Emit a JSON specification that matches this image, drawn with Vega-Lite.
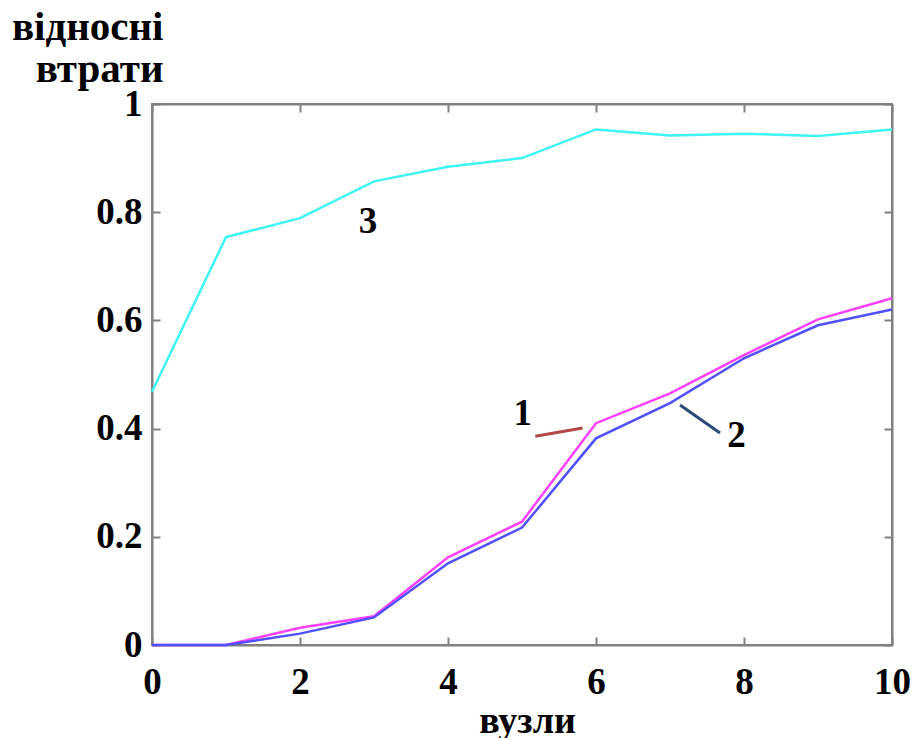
{
  "$schema": "https://vega.github.io/schema/vega-lite/v6.json",
  "width": 740,
  "height": 541,
  "autosize": "none",
  "padding": {"left": 152, "top": 104, "right": 21, "bottom": 93},
  "background": "white",
  "config": {
    "view": {"stroke": "#808080", "strokeWidth": 2},
    "axis": {
      "grid": false,
      "domainColor": "#808080",
      "domainWidth": 2,
      "tickColor": "#808080",
      "tickWidth": 2,
      "tickSize": -8,
      "labelFont": "Liberation Serif",
      "labelFontWeight": "bold",
      "labelFontSize": 37,
      "labelColor": "black",
      "titleFont": "Liberation Serif",
      "titleFontWeight": "bold",
      "titleFontSize": 38,
      "titleColor": "black"
    }
  },
  "datasets": {
    "lines": [
      {"series": "1", "x": 0, "y": 0},
      {"series": "1", "x": 1, "y": 0},
      {"series": "1", "x": 2, "y": 0.032},
      {"series": "1", "x": 3, "y": 0.053},
      {"series": "1", "x": 4, "y": 0.162},
      {"series": "1", "x": 5, "y": 0.228},
      {"series": "1", "x": 6, "y": 0.41},
      {"series": "1", "x": 7, "y": 0.465},
      {"series": "1", "x": 8, "y": 0.536},
      {"series": "1", "x": 9, "y": 0.602},
      {"series": "1", "x": 10, "y": 0.641},
      {"series": "2", "x": 0, "y": 0},
      {"series": "2", "x": 1, "y": 0},
      {"series": "2", "x": 2, "y": 0.021},
      {"series": "2", "x": 3, "y": 0.051},
      {"series": "2", "x": 4, "y": 0.151},
      {"series": "2", "x": 5, "y": 0.217},
      {"series": "2", "x": 6, "y": 0.382},
      {"series": "2", "x": 7, "y": 0.447},
      {"series": "2", "x": 8, "y": 0.53},
      {"series": "2", "x": 9, "y": 0.591},
      {"series": "2", "x": 10, "y": 0.62},
      {"series": "3", "x": 0, "y": 0.468},
      {"series": "3", "x": 1, "y": 0.754},
      {"series": "3", "x": 2, "y": 0.789},
      {"series": "3", "x": 3, "y": 0.857},
      {"series": "3", "x": 4, "y": 0.884},
      {"series": "3", "x": 5, "y": 0.9},
      {"series": "3", "x": 6, "y": 0.953},
      {"series": "3", "x": 7, "y": 0.942},
      {"series": "3", "x": 8, "y": 0.945},
      {"series": "3", "x": 9, "y": 0.941},
      {"series": "3", "x": 10, "y": 0.953}
    ],
    "pointers": [
      {"label": "1", "x": 5.18, "y": 0.386, "x2": 5.82, "y2": 0.401},
      {"label": "2", "x": 7.135, "y": 0.4436, "x2": 7.676, "y2": 0.392}
    ],
    "labels": [
      {"label": "1", "x": 5.01, "y": 0.4067},
      {"label": "2", "x": 7.9, "y": 0.366},
      {"label": "3", "x": 2.92, "y": 0.7616}
    ]
  },
  "layer": [
    {
      "data": {"name": "lines"},
      "mark": {"type": "line", "strokeWidth": 2.5},
      "encoding": {
        "x": {
          "field": "x", "type": "quantitative",
          "scale": {"domain": [0, 10], "nice": false},
          "axis": {
            "orient": "bottom",
            "values": [0, 2, 4, 6, 8, 10],
            "format": "d",
            "labelFlush": false,
            "labelBaseline": "alphabetic",
            "labelPadding": 56,
            "title": "вузли",
            "titleAnchor": "start",
            "titleAlign": "center",
            "titleBaseline": "alphabetic",
            "titleX": 375,
            "titleY": 87
          }
        },
        "y": {
          "field": "y", "type": "quantitative",
          "scale": {"domain": [0, 1], "nice": false},
          "axis": {
            "orient": "left",
            "values": [0, 0.2, 0.4, 0.6, 0.8, 1],
            "format": "~g",
            "labelFlush": false,
            "labelPadding": 18,
            "labelBaseline": "middle",
            "title": ["відносні", "втрати"],
            "titleFontSize": 41,
            "titleAngle": 0,
            "titleAnchor": "start",
            "titleAlign": "right",
            "titleBaseline": "alphabetic",
            "titleLineHeight": 42,
            "titleX": 11,
            "titleY": -65
          }
        },
        "color": {
          "field": "series", "type": "nominal",
          "scale": {"domain": ["1", "2", "3"], "range": ["#ff40ff", "#5050ff", "#40f4f4"]},
          "legend": null
        }
      }
    },
    {
      "data": {"name": "pointers"},
      "mark": {"type": "rule", "strokeWidth": 3},
      "encoding": {
        "x": {"field": "x", "type": "quantitative", "axis": null},
        "y": {"field": "y", "type": "quantitative", "axis": null},
        "x2": {"field": "x2"},
        "y2": {"field": "y2"},
        "color": {
          "field": "label", "type": "nominal",
          "scale": {"domain": ["1", "2"], "range": ["#b04848", "#2c4a78"]},
          "legend": null
        }
      }
    },
    {
      "data": {"name": "labels"},
      "mark": {"type": "text", "font": "Liberation Serif", "fontWeight": "bold", "fontSize": 37, "align": "center", "baseline": "alphabetic", "color": "black"},
      "encoding": {
        "x": {"field": "x", "type": "quantitative", "axis": null},
        "y": {"field": "y", "type": "quantitative", "axis": null},
        "text": {"field": "label"}
      }
    },
    {
      "data": {"name": "lines"},
      "mark": {"type": "point", "opacity": 0},
      "encoding": {
        "x": {
          "field": "x", "type": "quantitative",
          "axis": {"orient": "top", "values": [0, 2, 4, 6, 8, 10], "labels": false, "title": null}
        },
        "y": {
          "field": "y", "type": "quantitative",
          "axis": {"orient": "right", "values": [0, 0.2, 0.4, 0.6, 0.8, 1], "labels": false, "title": null}
        }
      }
    }
  ],
  "resolve": {"axis": {"x": "independent", "y": "independent"}, "scale": {"color": "independent"}}
}
